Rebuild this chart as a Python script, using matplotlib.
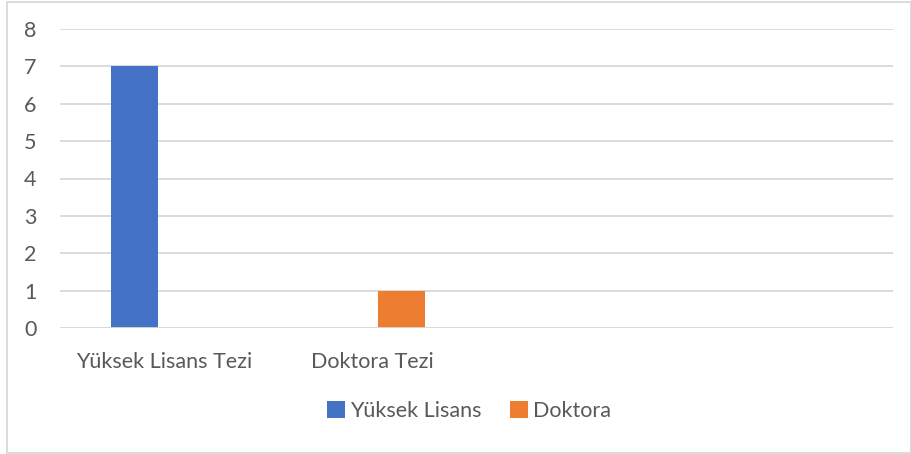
import matplotlib
matplotlib.use("Agg")
import matplotlib.pyplot as plt
from matplotlib.patches import Rectangle
import numpy as np

categories = ["Yüksek Lisans Tezi", "Doktora Tezi", "", ""]
series_names = ["Yüksek Lisans", "Doktora"]
yuksek_lisans = [7, 0, 0, 0]
doktora = [0, 1, 0, 0]
colors = ["#4472C4", "#ED7D31"]

plt.rcParams['font.family'] = ['Lato', 'DejaVu Sans']
text_color = "#595959"
fs = 15.5

fig = plt.figure(figsize=(9.12, 4.54), dpi=100)
ax = fig.add_axes([60/912, 1-328/454, (893-60)/912, (328-29)/454])

x = np.arange(len(categories))
w = 0.226
off = 0.142
ax.bar(x - off, yuksek_lisans, width=w, color=colors[0], label=series_names[0], zorder=3)
ax.bar(x + off, doktora, width=w, color=colors[1], label=series_names[1], zorder=3)

ax.set_xlim(-0.5, len(categories) - 0.5)
ax.set_ylim(0, 8)
ax.set_yticks(range(0, 9))
ax.grid(axis='y', color="#D9D9D9", linewidth=1.3, zorder=0)
ax.set_axisbelow(True)
for s in ax.spines.values():
    s.set_visible(False)
ax.axhline(0, color="#D9D9D9", linewidth=1.3, zorder=4)
ax.set_xticks(x)
ax.set_xticklabels(categories)
ax.tick_params(axis='both', length=0, colors=text_color, labelsize=fs)
ax.tick_params(axis='x', pad=17)
ax.tick_params(axis='y', pad=17)

leg = fig.legend(loc='center', bbox_to_anchor=(469/912, 1-411/454), ncol=2,
                 frameon=False, fontsize=fs, handlelength=0.85, handleheight=0.85,
                 handletextpad=0.25, columnspacing=1.3)
for t in leg.get_texts():
    t.set_color(text_color)

fig.patches.append(Rectangle((7/912, 1/454), 904/912, 451/454, transform=fig.transFigure,
                             fill=False, edgecolor="#D9D9D9", linewidth=1.3))

fig.savefig("out.png", dpi=100)
